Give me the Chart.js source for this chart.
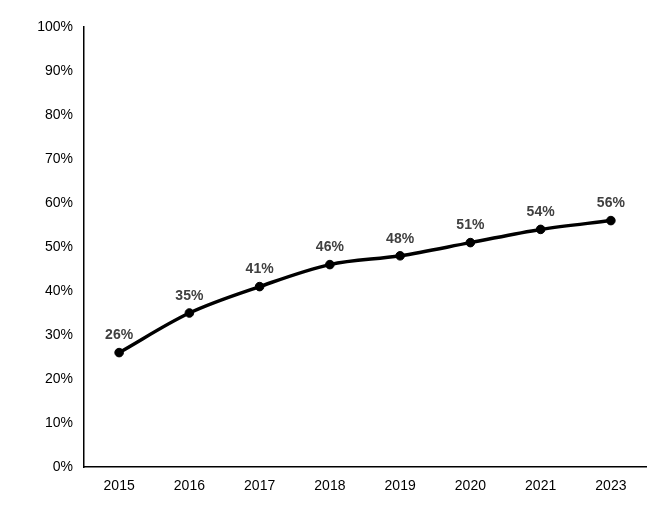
<!DOCTYPE html>
<html>
<head>
<meta charset="utf-8">
<script src="https://cdn.jsdelivr.net/npm/chart.js@4"></script>
<style>
  html, body { margin: 0; padding: 0; background: #fff; }
  #wrap { width: 665px; height: 506px; }
</style>
</head>
<body>
<div id="wrap"><canvas id="myChart" width="665" height="506"></canvas></div>
<script>
// Chart data
const years = ['2015', '2016', '2017', '2018', '2019', '2020', '2021', '2023'];
const shares = [26, 35, 41, 46, 48, 51, 54, 56];

// Small plugin to write the value above each point
const pointLabels = {
    id: 'pointLabels',
    afterDatasetsDraw(chart) {
        const ctx = chart.ctx;
        const meta = chart.getDatasetMeta(0);
        ctx.save();
        ctx.font = 'bold 14px "Liberation Sans", Arial, sans-serif';
        ctx.fillStyle = '#404040';
        ctx.textAlign = 'center';
        ctx.textBaseline = 'middle';
        meta.data.forEach((pt, i) => {
            ctx.fillText(shares[i] + '%', pt.x, pt.y - 17);
        });
        ctx.restore();
    }
};

new Chart(document.getElementById('myChart'), {
    type: 'line',
    data: {
        labels: years,
        datasets: [{
            data: shares,
            borderColor: '#000',
            backgroundColor: '#000',
            borderWidth: 3.5,
            pointRadius: 4.3,
            pointBorderWidth: 1,
            pointHoverRadius: 4.3,
            tension: 0.25,
            cubicInterpolationMode: 'monotone'
        }]
    },
    options: {
        responsive: false,
        animation: false,
        events: [],
        layout: { padding: { top: 27, right: 19, left: 0, bottom: 0 } },
        plugins: { legend: { display: false }, tooltip: { enabled: false } },
        scales: {
            x: {
                offset: true,
                grid: { display: false },
                border: { display: true, color: '#000', width: 1.5 },
                ticks: { color: '#000', padding: 3, font: { family: '"Liberation Sans", Arial, sans-serif', size: 14 } },
                afterFit(scale) { scale.height = 39; }
            },
            y: {
                min: 0,
                max: 100,
                grid: { display: false },
                border: { display: true, color: '#000', width: 1.5 },
                ticks: {
                    stepSize: 10,
                    color: '#000',
                    padding: 3,
                    font: { family: '"Liberation Sans", Arial, sans-serif', size: 14 },
                    callback: v => v + '%'
                },
                afterFit(scale) { scale.width = 84; }
            }
        }
    },
    plugins: [pointLabels]
});
</script>
</body>
</html>
